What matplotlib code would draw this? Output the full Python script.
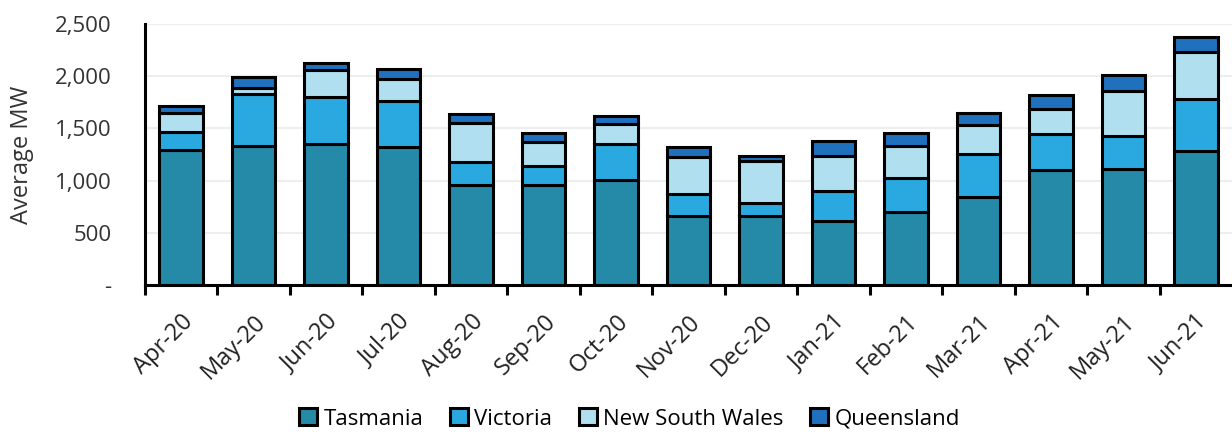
import matplotlib.pyplot as plt
import numpy as np

months = ["Apr-20", "May-20", "Jun-20", "Jul-20", "Aug-20", "Sep-20", "Oct-20",
          "Nov-20", "Dec-20", "Jan-21", "Feb-21", "Mar-21", "Apr-21", "May-21", "Jun-21"]
tasmania = [1290, 1336, 1352, 1319, 959, 959, 1010, 664, 658, 610, 703, 840, 1103, 1108, 1285]
victoria = [180, 490, 453, 448, 216, 178, 342, 208, 128, 287, 326, 416, 341, 321, 495]
nsw = [175, 62, 250, 208, 374, 230, 192, 352, 406, 336, 300, 278, 244, 434, 450]
queensland = [65, 100, 70, 95, 91, 86, 79, 102, 41, 148, 131, 111, 130, 147, 144]

series = [("Tasmania", tasmania, "#2589a8"),
          ("Victoria", victoria, "#2aa9e0"),
          ("New South Wales", nsw, "#b0dff0"),
          ("Queensland", queensland, "#1f70bd")]

plt.rcParams['font.family'] = ['Open Sans', 'DejaVu Sans']

fig = plt.figure(figsize=(12.32, 4.32), dpi=100)
ax = fig.add_axes([0.1177, 0.3403, 0.8823, 0.6041])

x = np.arange(len(months))
bottom = np.zeros(len(months))
handles = []
for name, vals, col in series:
    b = ax.bar(x, vals, width=0.6, bottom=bottom, color=col,
               edgecolor="black", linewidth=2.2, label=name, zorder=3)
    handles.append(b)
    bottom += np.array(vals)

ax.set_xlim(-0.5, len(months) - 0.5)
ax.set_ylim(0, 2500)
ax.set_yticks([0, 500, 1000, 1500, 2000, 2500])
ax.set_yticklabels(["-", "500", "1,000", "1,500", "2,000", "2,500"],
                   fontsize=16, color="#333333")
ax.yaxis.grid(True, color="#eeeeee", linewidth=1.5, zorder=0)
ax.set_axisbelow(True)

ax.set_xticks(x)
ax.set_xticklabels(months, rotation=45, ha="right", rotation_mode="anchor",
                   fontsize=17, color="#222222")
ax.tick_params(axis="x", which="major", length=0, pad=18)
ax.tick_params(axis="y", which="major", length=0, pad=24)

# tick marks sit on the category boundaries
ax.set_xticks(np.arange(len(months)) - 0.5, minor=True)
ax.tick_params(axis="x", which="minor", length=7, width=2.2, direction="out")
ax.set_yticks([0, 2500], minor=True)
ax.tick_params(axis="y", which="minor", length=8, width=2.2, direction="out")

for s in ["top", "right"]:
    ax.spines[s].set_visible(False)
for s in ["left", "bottom"]:
    ax.spines[s].set_linewidth(2.2)

ax.set_ylabel("Average MW", fontsize=17, color="#333333")
ax.yaxis.set_label_coords(-0.102, 0.5)

fig.legend(handles=handles, loc="center", bbox_to_anchor=(0.511, 0.03),
           ncol=4, frameon=False, fontsize=16, handlelength=0.8, handleheight=0.8,
           handletextpad=0.3, columnspacing=1.2)

fig.savefig("out.png", dpi=100)
